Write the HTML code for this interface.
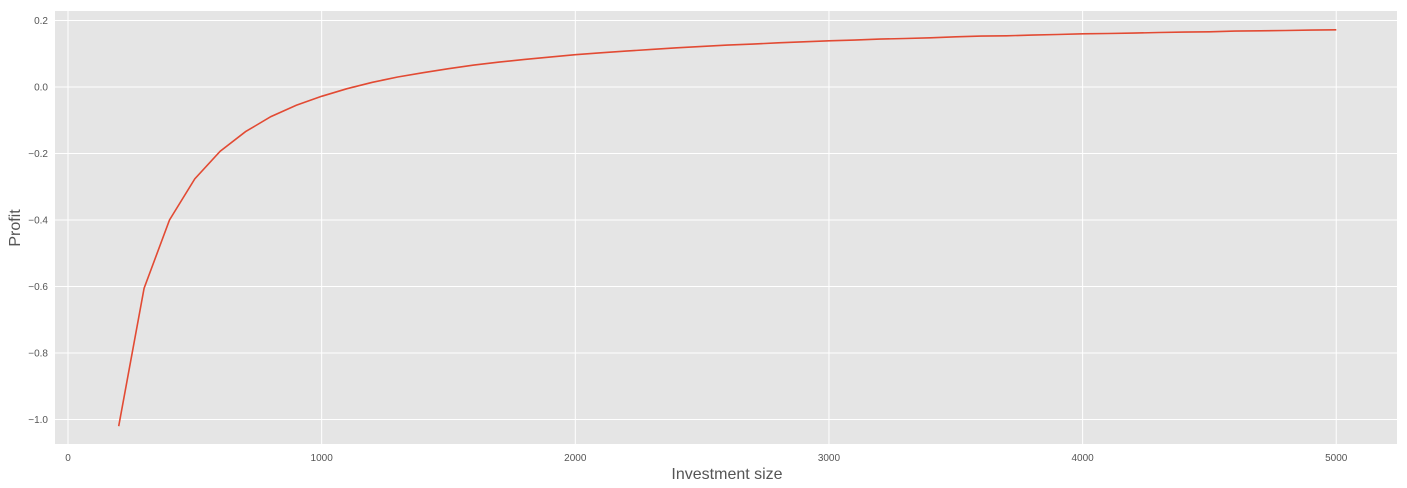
<!DOCTYPE html>
<html><head><meta charset="utf-8"><style>
html,body{margin:0;padding:0;background:#fff;}
svg{display:block;font-family:"Liberation Sans","DejaVu Sans",sans-serif;}
</style></head><body>
<svg id="chart" width="1407" height="488" xmlns="http://www.w3.org/2000/svg">
<rect x="55" y="11" width="1342" height="433" fill="#e5e5e5"/>
<g id="grid"></g><g id="ticks"></g>
<path id="line" fill="none" stroke="#e24a33" stroke-width="1.6"/>
<text x="727" y="479" font-size="16" fill="#555" text-anchor="middle">Investment size</text>
<text transform="translate(20,228) rotate(-90)" font-size="16" fill="#555" text-anchor="middle">Profit</text>
</svg>
<script>
const investment = [200,300,400,500,600,700,800,900,1000,1100,1200,1300,1400,1500,1600,1700,1800,1900,2000,2100,2200,2300,2400,2500,2600,2700,2800,2900,3000,3100,3200,3300,3400,3500,3600,3700,3800,3900,4000,4100,4200,4300,4400,4500,4600,4700,4800,4900,5000];
const profit = [-1.02,-0.605,-0.40,-0.276,-0.193,-0.134,-0.089,-0.055,-0.028,-0.005,0.014,0.030,0.043,0.055,0.066,0.075,0.083,0.090,0.097,0.103,0.108,0.113,0.118,0.122,0.126,0.129,0.133,0.136,0.139,0.141,0.144,0.146,0.148,0.151,0.153,0.154,0.156,0.158,0.160,0.161,0.162,0.164,0.165,0.166,0.168,0.169,0.170,0.171,0.172];
const xTicks = [0,1000,2000,3000,4000,5000];
const yTicks = [0.2,0.0,-0.2,-0.4,-0.6,-0.8,-1.0];
const yTickLabels = ["0.2","0.0","\u22120.2","\u22120.4","\u22120.6","\u22120.8","\u22121.0"];

function xs(v){return 68 + v*0.25365;}
function ys(v){return 87 - v*332.5;}
const NS="http://www.w3.org/2000/svg";
const grid=document.getElementById('grid'), ticks=document.getElementById('ticks');
xTicks.forEach(t=>{
  const l=document.createElementNS(NS,'line');
  
  
  l.setAttribute('x1',xs(t));l.setAttribute('x2',xs(t));l.setAttribute('y1',11);l.setAttribute('y2',444);
  l.setAttribute('stroke','#fff');l.setAttribute('stroke-width','1');grid.appendChild(l);
  const tx=document.createElementNS(NS,'text');
  
  
  tx.setAttribute('x',xs(t));tx.setAttribute('y',461);tx.setAttribute('font-size','10');
  tx.setAttribute('fill','#555');tx.setAttribute('text-anchor','middle');tx.textContent=t;ticks.appendChild(tx);
});
yTicks.forEach((t,i)=>{
  const l=document.createElementNS(NS,'line');
  
  
  l.setAttribute('x1',55);l.setAttribute('x2',1397);l.setAttribute('y1',ys(t));l.setAttribute('y2',ys(t));
  l.setAttribute('stroke','#fff');l.setAttribute('stroke-width','1');grid.appendChild(l);
  const tx=document.createElementNS(NS,'text');
  
  
  tx.setAttribute('x',48);tx.setAttribute('y',ys(t)+3.5);tx.setAttribute('font-size','10');
  tx.setAttribute('fill','#555');tx.setAttribute('text-anchor','end');tx.textContent=yTickLabels[i];ticks.appendChild(tx);
});
document.getElementById('line').setAttribute('d',investment.map((x,i)=>(i?'L':'M')+xs(x).toFixed(1)+','+ys(profit[i]).toFixed(1)).join(' '));
</script>
</body></html>
